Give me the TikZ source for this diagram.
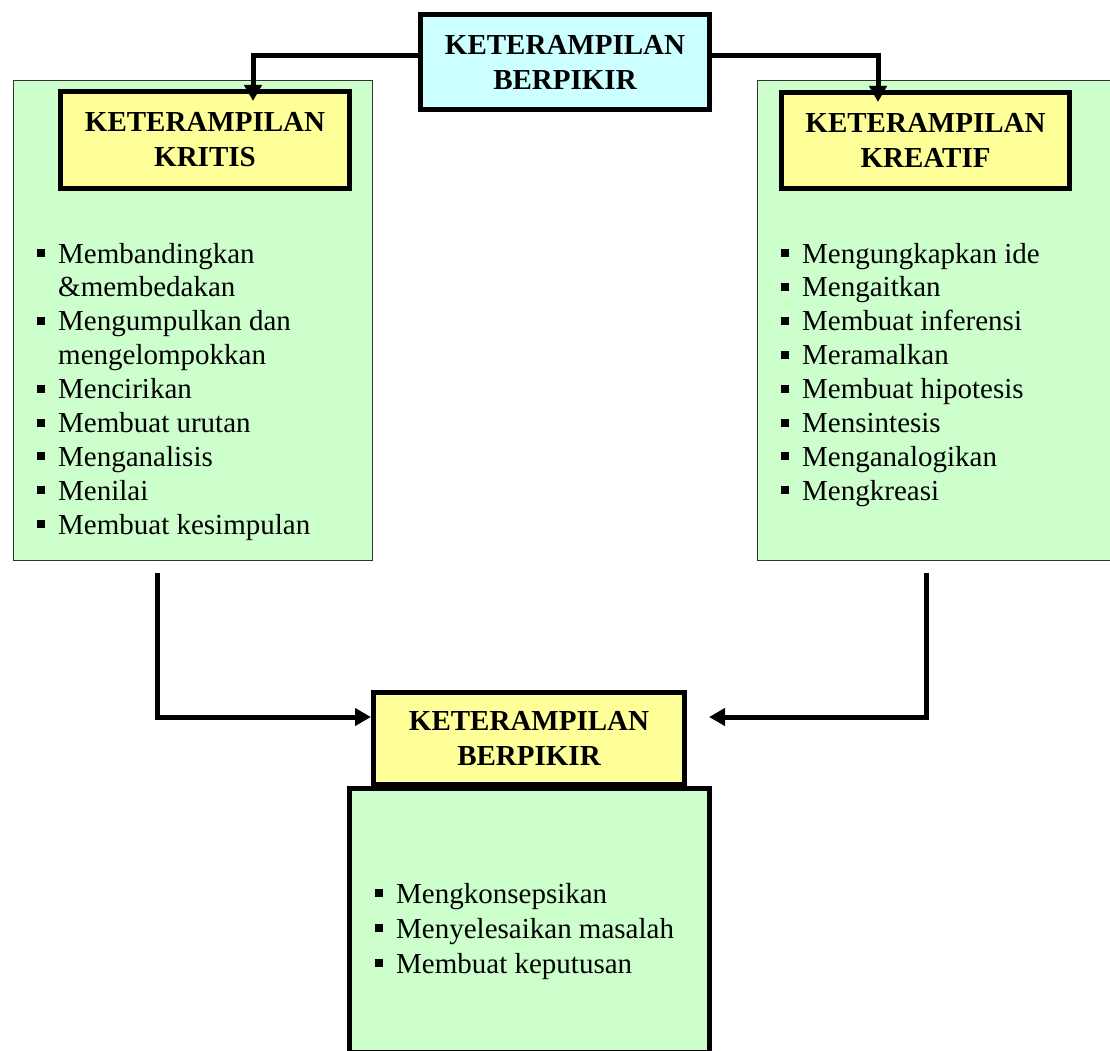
\documentclass[tikz,border=0pt]{standalone}
\usepackage{fontspec}
\setmainfont{Liberation Serif}
\usetikzlibrary{arrows.meta}
\definecolor{cyanfill}{HTML}{CCFFFF}
\definecolor{yellowfill}{HTML}{FFFF99}
\definecolor{greenfill}{HTML}{CCFFCC}
\definecolor{panelline}{HTML}{333333}
\newcommand{\bulsq}{\makebox[21pt][l]{\rule[6pt]{8pt}{8pt}}}
\begin{document}
\begin{tikzpicture}[x=1pt,y=-1pt,
  titlebox/.style={draw=black, line width=5pt, inner sep=0pt, align=center,
    font=\fontsize{29}{35}\selectfont\bfseries},
  panel/.style={draw=panelline, line width=1.5pt, fill=greenfill, inner sep=0pt},
  resultbox/.style={draw=black, line width=5pt, fill=greenfill, inner sep=0pt},
  itemtext/.style={anchor=base west, inner sep=0pt, font=\fontsize{29}{34}\selectfont},
  arr/.style={line width=5pt, -{Triangle[length=16pt,width=17pt]}},
  ]
\useasboundingbox (0,0) rectangle (1110,1051);

% side panels
\node[panel, minimum width=359pt, minimum height=480pt] (lpanel) at (193,320.5) {};
\node[panel, minimum width=372.5pt, minimum height=480pt] (rpanel) at (943.75,320.5) {};

% title boxes
\node[titlebox, fill=cyanfill, minimum width=289pt, minimum height=95pt] (berpikir) at (565,62) {KETERAMPILAN\\BERPIKIR};
\node[titlebox, fill=yellowfill, minimum width=289pt, minimum height=97pt] (kritis) at (205,140) {KETERAMPILAN\\KRITIS};
\node[titlebox, fill=yellowfill, minimum width=288pt, minimum height=96pt] (kreatif) at (925.5,140.5) {KETERAMPILAN\\KREATIF};

% bottom result
\node[resultbox, minimum width=360pt, minimum height=263.5pt] (hasil) at (529.5,920.25) {};
\node[titlebox, fill=yellowfill, minimum width=311pt, minimum height=92pt] (berpikir2) at (529,738.5) {KETERAMPILAN\\BERPIKIR};

% top connectors
\draw[arr] ([yshift=6pt]berpikir.west) -| ([xshift=48pt,yshift=-12pt]kritis.north);
\draw[arr] ([yshift=6pt]berpikir.east) -| ([xshift=-47.5pt,yshift=-12pt]kreatif.north);

% bottom connectors
\coordinate (lstart) at (157,573);
\coordinate (rstart) at (926,573);
\draw[arr] (lstart) |- ([yshift=21.5pt]berpikir2.west);
\draw[arr] (rstart) |- ([xshift=22pt,yshift=21.5pt]berpikir2.east);

% left list
\node[itemtext] (k1) at (37,263) {\bulsq Membandingkan};
\node[itemtext] (k1b) at (58,296.9) {\&membedakan};
\node[itemtext] (k2) at (37,330.8) {\bulsq Mengumpulkan dan};
\node[itemtext] (k2b) at (58,364.7) {mengelompokkan};
\node[itemtext] (k3) at (37,398.6) {\bulsq Mencirikan};
\node[itemtext] (k4) at (37,432.5) {\bulsq Membuat urutan};
\node[itemtext] (k5) at (37,466.4) {\bulsq Menganalisis};
\node[itemtext] (k6) at (37,500.3) {\bulsq Menilai};
\node[itemtext] (k7) at (37,534.2) {\bulsq Membuat kesimpulan};

% right list
\foreach \t [count=\i from 0] in {Mengungkapkan ide, Mengaitkan, Membuat inferensi, Meramalkan, Membuat hipotesis, Mensintesis, Menganalogikan, Mengkreasi}
  \node[itemtext] (c\i) at (781,263+33.9*\i) {\bulsq \t};

% bottom list
\node[itemtext] (h1) at (375,903) {\bulsq Mengkonsepsikan};
\node[itemtext] (h2) at (375,938) {\bulsq Menyelesaikan masalah};
\node[itemtext] (h3) at (375,973) {\bulsq Membuat keputusan};
\end{tikzpicture}
\end{document}
